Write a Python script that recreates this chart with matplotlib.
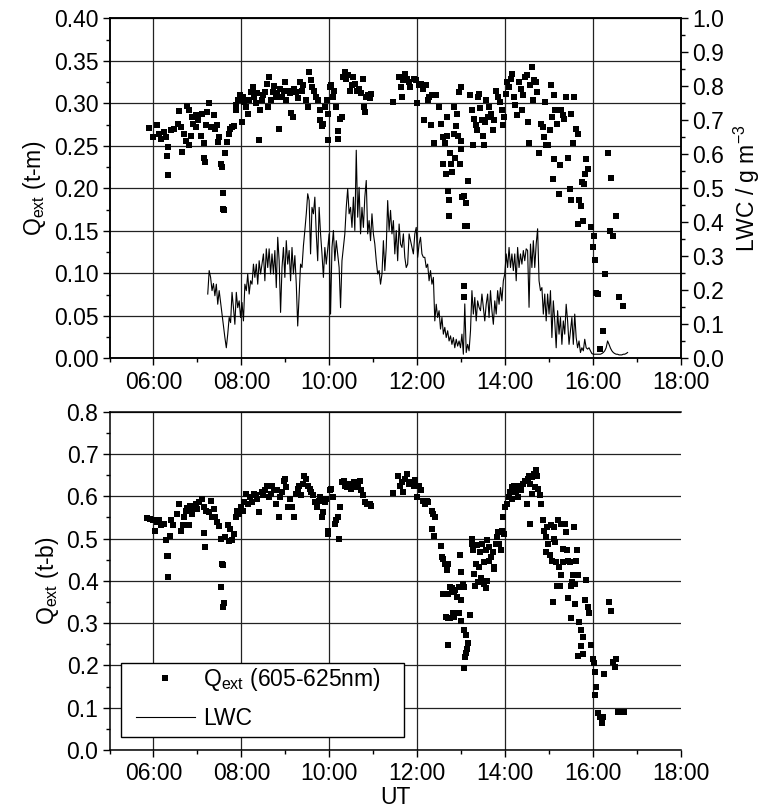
import numpy as np
import matplotlib
matplotlib.use("Agg")
import matplotlib.pyplot as plt
from matplotlib.ticker import MultipleLocator, FixedLocator, FuncFormatter
from matplotlib.lines import Line2D
from matplotlib.patches import Rectangle

plt.rcParams['font.family'] = ['Liberation Sans', 'DejaVu Sans']
plt.rcParams['mathtext.fontset'] = 'custom'
plt.rcParams['mathtext.rm'] = 'Liberation Sans'

# ---------------- data ----------------
# top panel: Q_ext (t-m)  (time in decimal hours UT, value)
tm_time = [5.89,5.98,6.08,6.12,6.18,6.24,6.28,6.34,6.30,6.33,6.41,6.47,6.55,6.59,6.63,6.65,6.69,6.73,6.76,6.80,6.81,6.85,6.88,6.91,6.96,6.98,7.02,7.08,7.10,7.14,7.15,7.18,7.20,7.22,7.26,7.30,7.37,7.40,7.44,7.48,7.50,7.53,7.56,7.59,7.58,7.61,7.64,7.68,7.72,7.75,7.79,7.83,
           7.87,7.89,7.93,7.97,8.01,8.03,8.07,8.11,8.15,8.18,8.21,8.26,8.29,8.33,8.36,8.41,8.42,8.46,8.50,8.54,8.58,8.60,8.64,8.68,8.72,8.75,8.78,8.82,8.85,8.89,8.93,8.97,8.99,9.02,9.07,9.11,9.13,9.17,9.21,9.25,9.29,9.33,9.37,9.41,9.48,9.51,9.55,9.58,9.62,9.66,9.70,9.74,9.78,9.80,9.84,9.87,9.90,9.94,9.97,9.98,10.02,10.05,10.08,10.11,10.15,10.19,10.21,10.24,10.29,
           10.31,10.35,10.39,10.43,10.47,10.51,10.55,10.59,10.63,10.67,10.72,10.76,10.80,10.81,10.84,10.88,10.92,10.96,
           11.46,11.59,11.63,11.66,11.69,11.73,11.77,11.82,11.85,11.92,11.98,12.00,12.04,12.10,12.14,12.16,12.20,12.24,12.28,12.31,12.34,12.38,12.42,12.49,
           12.54,12.59,12.60,12.63,12.65,12.67,12.68,12.71,12.72,12.73,12.75,12.77,12.80,12.83,12.85,12.87,12.89,12.91,12.94,12.98,12.99,13.01,13.03,13.07,13.09,13.11,13.14,13.15,12.95,12.99,13.07,13.07,
           13.20,13.24,13.28,13.30,13.33,13.36,13.38,13.41,13.44,13.48,13.50,13.52,13.54,13.58,13.61,13.64,13.68,13.72,13.76,13.80,13.85,13.89,13.93,13.95,13.98,14.02,14.05,14.09,14.13,14.17,14.21,14.24,14.28,14.31,14.36,14.39,14.42,14.46,14.50,14.52,14.54,14.58,14.62,14.63,14.66,14.70,14.74,14.78,14.82,14.86,14.88,14.91,14.94,14.98,15.02,15.04,15.07,15.09,15.11,15.12,15.15,15.19,15.23,15.25,15.28,15.31,15.35,15.39,15.43,15.47,15.50,15.51,15.55,15.58,15.62,15.66,15.67,15.69,15.72,15.76,15.77,15.80,15.82,15.85,15.88,15.96,16.00,16.02,16.04,16.08,16.12,16.16,16.23,16.27,16.34,16.38,16.41,16.46,16.53,16.59,16.69]
tm_qext = [0.271,0.260,0.274,0.264,0.258,0.266,0.260,0.249,0.238,0.216,0.268,0.270,0.276,0.291,0.272,0.243,0.264,0.256,0.297,0.251,0.292,0.262,0.284,0.276,0.286,0.272,0.280,0.262,0.288,0.253,0.236,0.231,0.274,0.290,0.300,0.272,0.286,0.270,0.274,0.254,0.260,0.229,0.225,0.195,0.176,0.175,0.242,0.254,0.264,0.270,0.272,0.273,
           0.292,0.298,0.304,0.310,0.278,0.308,0.302,0.296,0.288,0.304,0.313,0.319,0.308,0.300,0.312,0.257,0.292,0.304,0.310,0.313,0.323,0.296,0.331,0.304,0.313,0.320,0.308,0.312,0.270,0.317,0.308,0.315,0.325,0.304,0.315,0.312,0.289,0.284,0.317,0.313,0.306,0.325,0.315,0.321,0.304,0.296,0.337,0.327,0.319,0.315,0.308,0.304,0.292,0.280,0.273,0.276,0.296,0.304,0.257,0.288,0.319,0.321,0.308,0.315,0.296,0.258,0.267,0.282,0.284,
           0.331,0.337,0.329,0.333,0.315,0.321,0.331,0.323,0.315,0.317,0.312,0.329,0.296,0.290,0.308,0.310,0.306,0.311,
           0.302,0.331,0.319,0.308,0.327,0.335,0.329,0.325,0.319,0.329,0.327,0.300,0.321,0.323,0.317,0.280,0.321,0.304,0.308,0.274,0.310,0.253,0.310,0.296,
           0.276,0.260,0.229,0.253,0.217,0.262,0.284,0.197,0.167,0.186,0.242,0.229,0.219,0.264,0.296,0.236,0.273,0.288,0.262,0.229,0.246,0.256,0.190,0.191,0.156,0.183,0.156,0.209,0.313,0.319,0.085,0.072,
           0.310,0.292,0.251,0.282,0.274,0.268,0.308,0.311,0.294,0.280,0.262,0.251,0.278,0.304,0.284,0.296,0.288,0.268,0.280,0.315,0.308,0.302,0.292,0.274,0.284,0.311,0.325,0.319,0.329,0.335,0.308,0.298,0.286,0.325,0.317,0.292,0.310,0.331,0.333,0.278,0.253,0.321,0.343,0.304,0.327,0.325,0.313,0.241,0.276,0.272,0.260,0.302,0.251,0.251,0.268,0.321,0.284,0.211,0.235,0.310,0.292,0.276,0.193,0.227,0.292,0.286,0.282,0.308,0.236,0.199,0.288,0.186,0.253,0.308,0.270,0.264,0.158,0.186,0.179,0.207,0.162,0.205,0.217,0.235,0.223,0.154,0.131,0.144,0.116,0.077,0.076,0.011,0.032,0.099,0.242,0.150,0.212,0.144,0.167,0.072,0.062]

# LWC (g m^-3), regularly sampled from lwc_start every lwc_step hours
lwc_start = 7.236
lwc_step = 0.0325
lwc = [0.189,0.258,0.238,0.199,0.220,0.184,0.218,0.159,0.199,0.164,0.130,0.095,0.061,0.031,0.071,0.120,0.105,0.194,0.149,0.100,
       0.194,0.149,0.169,0.120,0.164,0.110,0.218,0.199,0.248,0.189,0.228,0.218,0.277,0.238,0.277,0.218,0.287,0.248,0.277,0.307,
       0.228,0.322,0.267,0.322,0.248,0.307,0.248,0.317,0.208,0.356,0.287,0.135,0.267,0.326,0.238,0.346,0.277,0.317,0.228,0.326,
       0.248,0.302,0.218,0.095,0.189,0.277,0.267,0.331,0.376,0.425,0.484,0.464,0.307,0.444,0.425,0.474,0.366,0.287,0.444,0.366,
       0.307,0.238,0.326,0.277,0.322,0.366,0.130,0.326,0.376,0.287,0.346,0.307,0.267,0.149,0.287,0.326,0.366,0.444,0.499,0.425,
       0.444,0.385,0.474,0.376,0.612,0.415,0.503,0.366,0.444,0.385,0.474,0.523,0.366,0.405,0.346,0.425,0.366,0.336,0.287,0.248,
       0.258,0.218,0.248,0.346,0.258,0.326,0.464,0.376,0.435,0.366,0.405,0.307,0.376,0.287,0.395,0.336,0.326,0.366,0.297,0.267,
       0.277,0.366,0.346,0.326,0.307,0.366,0.385,0.297,0.336,0.356,0.307,0.297,0.297,0.267,0.277,0.228,0.258,0.218,0.238,0.110,
       0.159,0.120,0.140,0.086,0.120,0.071,0.091,0.061,0.081,0.051,0.066,0.041,0.061,0.031,0.056,0.036,0.051,0.031,0.071,0.012,
       0.160,0.017,0.041,0.022,0.081,0.199,0.130,0.179,0.110,0.169,0.150,0.140,0.189,0.150,0.110,0.159,0.189,0.120,0.199,0.140,
       0.100,0.169,0.130,0.199,0.159,0.208,0.169,0.228,0.248,0.307,0.267,0.326,0.267,0.307,0.258,0.307,0.228,0.326,0.267,0.307,
       0.277,0.317,0.287,0.322,0.317,0.150,0.336,0.267,0.346,0.267,0.336,0.381,0.228,0.199,0.208,0.130,0.189,0.110,0.189,0.130,
       0.199,0.061,0.169,0.110,0.031,0.140,0.071,0.120,0.041,0.110,0.071,0.159,0.110,0.041,0.081,0.120,0.041,0.130,0.061,0.031,
       0.051,0.017,0.031,0.022,0.056,0.031,0.027,0.031,0.022,0.014,0.012,0.012,0.012,0.012,0.012,0.012,0.014,0.017,0.022,0.031,
       0.051,0.041,0.030,0.022,0.017,0.014,0.012,0.012,0.010,0.010,0.010,0.012,0.012,0.014,0.017]

# bottom panel: Q_ext (t-b)
tb_time = [5.86,5.92,5.98,6.04,6.07,6.12,6.18,6.23,6.28,6.31,6.34,6.33,6.37,6.41,6.45,6.53,6.59,6.63,6.67,6.70,6.73,6.77,6.80,6.83,6.88,6.91,6.96,6.99,7.04,7.10,7.14,7.15,7.18,7.20,7.26,7.30,7.34,7.37,7.40,7.45,7.50,7.53,7.56,7.59,7.54,7.59,7.61,7.64,7.69,7.72,7.75,7.79,7.83,7.87,7.91,7.95,7.99,8.03,
           8.07,8.11,8.15,8.20,8.24,8.28,8.33,8.36,8.41,8.46,8.50,8.54,8.58,8.62,8.67,8.70,8.75,8.78,8.82,8.86,8.89,8.93,8.97,8.99,9.02,9.07,9.11,9.15,9.19,9.24,9.28,9.32,9.35,9.40,9.43,9.48,9.51,9.56,9.59,9.64,9.67,9.72,9.76,9.80,9.84,9.87,9.90,9.93,9.97,9.98,
           10.02,10.05,10.08,10.13,10.16,10.19,10.23,10.24,10.29,10.33,10.37,10.41,10.46,10.49,10.54,10.57,10.62,10.65,10.70,10.73,10.78,10.81,10.86,10.92,10.96,
           11.46,11.57,11.61,11.65,11.69,11.73,11.77,11.82,11.87,11.92,11.95,11.99,12.04,12.10,12.14,12.18,12.22,12.26,12.33,12.36,12.41,12.34,12.38,12.55,12.57,12.60,12.63,12.67,12.70,12.60,12.65,12.71,12.75,12.79,12.83,12.87,12.91,12.95,12.98,13.01,13.04,13.07,12.99,12.65,12.71,12.76,12.81,12.85,12.96,12.99,13.20,12.71,13.07,13.11,13.15,13.14,13.11,13.09,13.07,
           13.24,13.25,13.28,13.30,13.33,13.36,13.40,13.44,13.48,13.52,13.56,13.60,13.63,13.64,13.68,13.72,13.74,13.76,13.79,13.82,13.85,13.87,13.90,13.93,13.95,13.97,14.01,14.05,14.09,14.11,14.15,14.17,14.21,14.25,14.29,14.33,14.37,14.41,14.46,14.50,14.52,14.55,14.58,14.62,14.66,14.70,14.74,14.76,14.80,14.68,14.56,14.62,14.82,
           13.32,13.38,13.45,13.52,13.57,13.60,
           14.86,14.90,14.93,14.94,14.96,14.99,15.02,15.04,15.07,15.11,15.12,15.15,15.17,15.20,15.23,15.27,15.28,15.31,15.33,15.37,15.39,15.41,15.43,15.47,15.50,15.53,15.55,15.58,15.59,15.61,15.64,15.67,15.09,15.19,15.25,15.43,15.51,15.59,15.69,15.74,15.77,15.72,15.67,15.77,15.82,15.84,15.88,15.92,15.96,16.00,16.02,16.04,16.08,16.04,16.12,16.16,16.20,16.24,16.25,16.36,16.41,16.46,16.50,16.52,16.58,16.65,16.71]
tb_qext = [0.549,0.547,0.544,0.518,0.539,0.543,0.531,0.535,0.496,0.458,0.458,0.408,0.507,0.543,0.533,0.559,0.582,0.519,0.531,0.551,0.566,0.573,0.531,0.578,0.559,0.570,0.582,0.570,0.586,0.594,0.575,0.513,0.480,0.566,0.563,0.590,0.551,0.570,0.551,0.539,0.529,0.500,0.441,0.437,0.386,0.338,0.348,0.504,0.531,0.494,0.523,0.496,0.511,0.551,0.566,0.559,0.575,0.566,
           0.586,0.606,0.582,0.598,0.586,0.606,0.602,0.594,0.563,0.610,0.602,0.614,0.625,0.598,0.606,0.625,0.615,0.582,0.614,0.551,0.598,0.610,0.637,0.641,0.622,0.575,0.594,0.575,0.551,0.606,0.618,0.625,0.602,0.629,0.647,0.641,0.625,0.618,0.610,0.602,0.586,0.575,0.590,0.598,0.551,0.563,0.586,0.594,0.511,0.519,
           0.614,0.618,0.598,0.535,0.543,0.551,0.500,0.575,0.633,0.637,0.625,0.622,0.629,0.618,0.625,0.633,0.622,0.625,0.637,0.614,0.602,0.586,0.582,0.582,0.578,
           0.607,0.649,0.625,0.633,0.610,0.641,0.653,0.629,0.633,0.625,0.638,0.598,0.625,0.614,0.590,0.582,0.590,0.586,0.566,0.559,0.551,0.523,0.505,0.482,0.456,0.452,0.441,0.425,0.441,0.370,0.368,0.370,0.386,0.382,0.374,0.378,0.362,0.386,0.460,0.421,0.393,0.386,0.354,0.315,0.313,0.313,0.323,0.315,0.324,0.305,0.319,0.249,0.283,0.271,0.252,0.240,0.230,0.219,0.193,
           0.500,0.488,0.472,0.417,0.441,0.484,0.433,0.468,0.488,0.445,0.472,0.496,0.480,0.448,0.456,0.468,0.433,0.429,0.488,0.504,0.515,0.488,0.472,0.519,0.551,0.511,0.575,0.582,0.598,0.610,0.594,0.622,0.625,0.610,0.598,0.625,0.614,0.629,0.637,0.582,0.641,0.649,0.629,0.645,0.653,0.661,0.649,0.618,0.602,0.622,0.535,0.606,0.581,
           0.387,0.397,0.407,0.393,0.383,0.399,
           0.543,0.519,0.504,0.468,0.527,0.488,0.460,0.531,0.448,0.500,0.527,0.492,0.445,0.543,0.433,0.535,0.413,0.476,0.445,0.535,0.515,0.472,0.448,0.445,0.387,0.397,0.415,0.527,0.393,0.448,0.472,0.413,0.350,0.387,0.387,0.360,0.313,0.346,0.303,0.283,0.267,0.245,0.222,0.227,0.354,0.401,0.338,0.325,0.248,0.216,0.205,0.185,0.149,0.130,0.087,0.079,0.065,0.079,0.179,0.350,0.329,0.207,0.197,0.216,0.090,0.090,0.090]

x_ticks = [6, 8, 10, 12, 14, 16, 18]
x_grid = [6, 8, 10, 12, 14, 16]
legend_labels = ['Q$_{\\mathregular{ext}}$ (605-625nm)', 'LWC']

# ---------------- figure ----------------
W, H = 764, 807
fig = plt.figure(figsize=(W / 100, H / 100), dpi=100)

def px_axes(x0, y0, x1, y1):
    return fig.add_axes([x0 / W, 1 - y1 / H, (x1 - x0) / W, (y1 - y0) / H])

ax1 = px_axes(109.5, 18.3, 680.7, 358.3)
ax2 = px_axes(109.5, 411.7, 680.7, 750.0)

FS = 16.5
GRID_KW = dict(color='#222222', linewidth=0.9)
tick_kw = dict(direction='out', labelsize=FS, width=1.0)

def style_time_axis(ax):
    ax.set_xlim(5, 18)
    ax.xaxis.set_major_locator(FixedLocator(x_ticks))
    ax.xaxis.set_minor_locator(MultipleLocator(1))
    ax.xaxis.set_major_formatter(FuncFormatter(lambda v, p: f"{int(round(v)):02d}:00"))
    ax.tick_params(axis='x', which='major', length=5, pad=4, **tick_kw)
    ax.tick_params(axis='x', which='minor', length=3, direction='out', width=1.0)
    ax.tick_params(axis='y', which='major', length=5, pad=3, **tick_kw)
    ax.tick_params(axis='y', which='minor', length=3, direction='out', width=1.0)
    ax.yaxis.grid(True, which='major', **GRID_KW)
    for xg in x_grid:
        ax.axvline(xg, zorder=0.5, **GRID_KW)
    ax.set_axisbelow(True)
    for s in ax.spines.values():
        s.set_linewidth(1.1)

# top panel
style_time_axis(ax1)
ax1.set_ylim(0, 0.40)
ax1.yaxis.set_major_locator(MultipleLocator(0.05))
ax1.yaxis.set_minor_locator(MultipleLocator(0.025))
ax1.yaxis.set_major_formatter(FuncFormatter(lambda v, p: f"{v:.2f}"))
ax1.plot(tm_time, tm_qext, linestyle='none', marker='s', markersize=4.7,
         color='black', markeredgewidth=0, zorder=3)
ax1.set_ylabel('Q$_{\\mathregular{ext}}$ (t-m)', fontsize=FS, labelpad=4)

ax1r = ax1.twinx()
ax1r.set_ylim(0, 1.0)
ax1r.yaxis.set_major_locator(MultipleLocator(0.1))
ax1r.yaxis.set_minor_locator(MultipleLocator(0.05))
ax1r.yaxis.set_major_formatter(FuncFormatter(lambda v, p: f"{v:.1f}"))
ax1r.tick_params(axis='y', which='major', length=5, pad=3, **tick_kw)
ax1r.tick_params(axis='y', which='minor', length=3, direction='out', width=1.0)
lwc_time = lwc_start + lwc_step * np.arange(len(lwc))
ax1r.plot(lwc_time, lwc, color='black', linewidth=0.8, zorder=2)
ax1r.set_ylabel('LWC / g m$^{\\mathregular{-3}}$', fontsize=FS, labelpad=6)
for s in ax1r.spines.values():
    s.set_linewidth(1.1)

# bottom panel
style_time_axis(ax2)
ax2.spines['right'].set_visible(False)
ax2.set_ylim(0, 0.8)
ax2.yaxis.set_major_locator(MultipleLocator(0.1))
ax2.yaxis.set_minor_locator(MultipleLocator(0.05))
ax2.yaxis.set_major_formatter(FuncFormatter(lambda v, p: f"{v:.1f}"))
ax2.plot(tb_time, tb_qext, linestyle='none', marker='s', markersize=4.7,
         color='black', markeredgewidth=0, zorder=3)
ax2.set_ylabel('Q$_{\\mathregular{ext}}$ (t-b)', fontsize=FS, labelpad=4)
ax2.set_xlabel('UT', fontsize=FS, labelpad=0)

# legend: frame drawn as a box in pixel coordinates, entries placed inside it
box_x0, box_y0, box_x1, box_y1 = 121.4, 662.7, 404.0, 737.3
frame = Rectangle((box_x0 / W, 1 - box_y1 / H), (box_x1 - box_x0) / W, (box_y1 - box_y0) / H,
                  transform=fig.transFigure, facecolor='white', edgecolor='black',
                  linewidth=1.0, zorder=4)
ax2.add_artist(frame)
handles = [Line2D([], [], linestyle='none', marker='s', markersize=4.7, color='black', markeredgewidth=0),
           Line2D([], [], color='black', linewidth=0.8)]
leg = ax2.legend(handles, legend_labels, loc='upper left',
                 bbox_to_anchor=(135.5 / W, 1 - 666.0 / H), bbox_transform=fig.transFigure,
                 borderaxespad=0, borderpad=0,
                 fontsize=FS, frameon=False, handlelength=2.6,
                 handletextpad=0.35, labelspacing=0.62)
leg.set_zorder(5)

fig.savefig('out.png', dpi=100)
